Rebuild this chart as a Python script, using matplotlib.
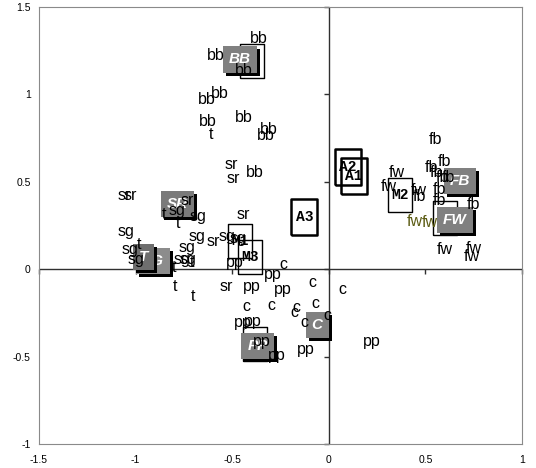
import matplotlib
matplotlib.use('Agg')
import matplotlib.pyplot as plt
from matplotlib.transforms import offset_copy

# ---- data ----

# small point labels: text, x, y, colour
pt_labels = ['bb', 'bb', 'bb', 'bb', 'bb', 'bb', 'bb', 'bb', 'bb', 'bb',
             't',
             'sr', 'sr', 'sr', 'sr', 'sr', 'sr', 'sr', 'sr',
             'sg', 'sg', 'sg', 'sg', 'sg', 'sg', 'sg', 'sg', 'sg', 'sg', 'sg',
             't', 't', 't', 't', 't', 't', 't',
             'pp', 'pp', 'pp', 'pp', 'pp', 'pp', 'pp', 'pp', 'pp', 'pp',
             'c', 'c', 'c', 'c', 'c', 'c', 'c', 'c', 'c', 'c',
             'fb', 'fb', 'fb', 'fb', 'fb', 'fb', 'fb', 'fb', 'fb', 'fb',
             'fw', 'fw', 'fw', 'fw', 'fw', 'fw',
             'fw', 'fw']
pt_x = [-0.36, -0.586, -0.44, -0.633, -0.564, -0.624, -0.44, -0.309, -0.327, -0.383,
        -0.612,
        -0.507, -0.495, -0.443, -0.598, -0.529, -1.06, -1.03, -0.733,
        -0.676, -0.684, -0.529, -0.47, -0.785, -1.05, -1.03, -0.998, -0.733, -0.76, -0.73,
        -0.852, -0.783, -0.983, -0.71, -0.802, -0.797, -0.702,
        -0.486, -0.288, -0.40, -0.24, -0.443, -0.392, -0.348, -0.271, -0.119, 0.221,
        -0.236, -0.084, 0.071, -0.429, -0.297, -0.167, -0.176, -0.069, -0.009, -0.124,
        0.553, 0.60, 0.531, 0.557, 0.588, 0.617, 0.571, 0.571, 0.747, 0.467,
        0.35, 0.312, 0.467, 0.60, 0.75, 0.738,
        0.445, 0.522]
pt_y = [1.32, 1.222, 1.137, 0.971, 1.003, 0.847, 0.866, 0.80, 0.767, 0.555,
        0.77,
        0.601, 0.519, 0.313, 0.156, -0.097, 0.423, 0.423, 0.393,
        0.303, 0.189, 0.189, 0.177, 0.336, 0.217, 0.113, 0.055, 0.122, 0.055, 0.055,
        0.313, 0.259, 0.141, 0.036, 0.011, -0.097, -0.154,
        0.036, -0.03, -0.097, -0.116, -0.307, -0.301, -0.416, -0.492, -0.46, -0.416,
        0.027, -0.078, -0.116, -0.212, -0.206, -0.217, -0.246, -0.198, -0.263, -0.307,
        0.742, 0.614, 0.584, 0.551, 0.522, 0.522, 0.456, 0.393, 0.37, 0.418,
        0.551, 0.475, 0.45, 0.113, 0.118, 0.074,
        0.275, 0.265]
pt_colors = ['black'] * (len(pt_labels) - 2) + ['#5c5c14', '#5c5c14']

# grey group centroids (drawn in this order)
grp_labels = ['SG', 'T', 'SR', 'BB', 'PP', 'C', 'FB', 'FW']
grp_x = [-0.909, -0.96, -0.784, -0.46, -0.368, -0.06, 0.68, 0.652]
grp_y = [0.046, 0.072, 0.375, 1.20, -0.439, -0.32, 0.505, 0.282]
grp_colors = ['#8c8c8c', '#6e6e6e', '#7a7a7a', '#808080', '#808080', '#808080',
              '#808080', '#808080']

# open (supplementary) boxes
sup_labels = ['B2', 'P2', 'F2', 'M1', 'M2', 'M3', 'A2', 'A1', 'A3']
sup_x = [-0.40, -0.384, 0.602, -0.46, 0.369, -0.407, 0.097, 0.128, -0.127]
sup_y = [1.19, -0.429, 0.292, 0.163, 0.425, 0.069, 0.582, 0.532, 0.297]
sup_heavy = [False, False, False, False, False, False, True, True, True]

xticks = [-1.5, -1, -0.5, 0, 0.5, 1]
yticks = [-1, -0.5, 0, 0.5, 1, 1.5]
xtick_labels = ['-1.5', '-1', '-0.5', '0', '0.5', '1']
ytick_labels = ['-1', '-0.5', '0', '0.5', '1', '1.5']

# ---- drawing ----
fig = plt.figure(figsize=(5.36, 4.68), dpi=100)
ax = fig.add_axes([0.0728, 0.0513, 0.9011, 0.9337])
ax.set_xlim(-1.5, 1)
ax.set_ylim(-1, 1.5)

for sp in ax.spines.values():
    sp.set_color('#8a8a8a')
    sp.set_linewidth(0.8)

ax.set_xticks(xticks)
ax.set_xticklabels(xtick_labels)
ax.set_yticks(yticks)
ax.set_yticklabels(ytick_labels)
ax.tick_params(length=0, labelsize=7.5)
ax.tick_params(axis='x', pad=8)
ax.tick_params(axis='y', pad=6)
for lab in ax.get_xticklabels() + ax.get_yticklabels():
    lab.set_family('Liberation Sans')

# crossing axes through the origin with small ticks
ax.axhline(0, color='#303030', lw=1.0, zorder=1)
ax.axvline(0, color='#303030', lw=1.0, zorder=1)
ax.plot(xticks, [0] * len(xticks), ls='none', marker=3, ms=3.5,
        mew=1.0, color='#303030', zorder=1, clip_on=False)
ax.plot([0] * len(yticks), yticks, ls='none', marker=0, ms=3.5,
        mew=1.0, color='#303030', zorder=1, clip_on=False)

# open boxes
rect = [(-0.37, -0.5), (0.37, -0.5), (0.37, 0.5), (-0.37, 0.5), (-0.37, -0.5)]
for lab, x, y, heavy in zip(sup_labels, sup_x, sup_y, sup_heavy):
    ax.plot([x], [y], ls='none', marker=rect, ms=26 if heavy else 24,
            mfc='none', mec='black', mew=1.8 if heavy else 1.0, zorder=3)
    ax.text(x, y, lab, ha='center', va='center', fontsize=10.5,
            family='Liberation Mono', weight='bold', color='black', zorder=3)

# grey centroid boxes with a drop shadow
shadow = offset_copy(ax.transData, fig=fig, x=3, y=-3, units='dots')
for lab, x, y, col in zip(grp_labels, grp_x, grp_y, grp_colors):
    ax.text(x, y, lab, transform=shadow, ha='center', va='center',
            fontsize=11, family='Liberation Sans', weight='bold', style='italic',
            color='black', zorder=4,
            bbox=dict(boxstyle='square,pad=0.4', fc='black', ec='none'))
    ax.text(x, y, lab, ha='center', va='center',
            fontsize=11, family='Liberation Sans', weight='bold', style='italic',
            color='white', zorder=4,
            bbox=dict(boxstyle='square,pad=0.4', fc=col, ec='none'))

# point labels
for lab, x, y, col in zip(pt_labels, pt_x, pt_y, pt_colors):
    ax.text(x, y, lab, ha='center', va='center', fontsize=11.5,
            family='Liberation Sans', color=col, zorder=6)

fig.savefig('out.png', dpi=100)
